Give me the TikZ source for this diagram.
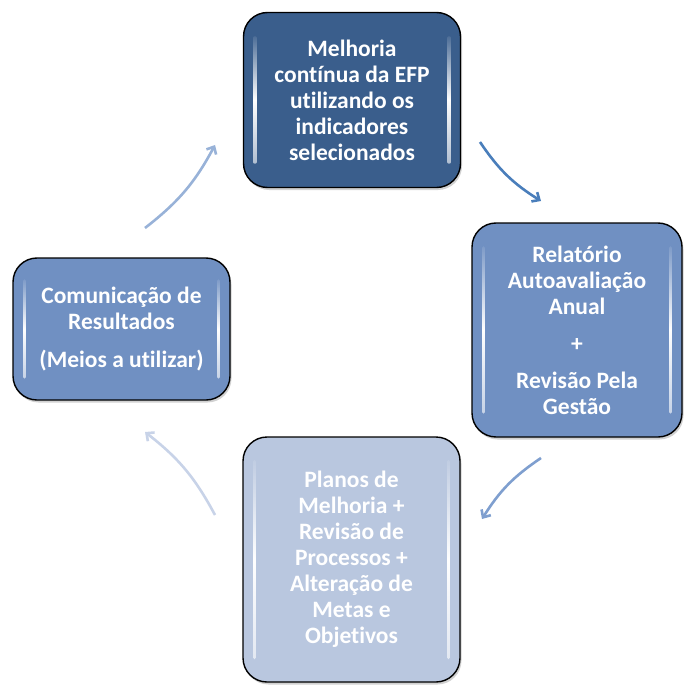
\documentclass[tikz,border=0pt]{standalone}
\usepackage{fontspec}
\setmainfont{Carlito}[Ligatures=NoCommon]
\usetikzlibrary{arrows.meta,shadows,fadings}
\definecolor{boxdark}{HTML}{3A5E8C}
\definecolor{boxmid}{HTML}{7090C2}
\definecolor{boxlight}{HTML}{B9C7DF}
\definecolor{arrA}{HTML}{4A7EBB}
\definecolor{arrB}{HTML}{7F9FCF}
\definecolor{arrC}{HTML}{C8D3E8}
\definecolor{arrD}{HTML}{98B2D8}
\tikzfading[name=vfade, top color=transparent!90, bottom color=transparent!40, middle color=transparent!0]
\tikzset{
  cyclebox/.style={draw=black, line width=1.4pt, rounded corners=24pt,
    align=center, text=white, inner sep=0pt,
    font=\fontsize{23.5}{26}\selectfont\bfseries,
    drop shadow={shadow xshift=1.5pt, shadow yshift=-2.5pt, opacity=0.18, fill=black}},
  gloss/.style={white, line width=3.5pt, line cap=round, path fading=vfade},
  cyclearrow/.style={line width=2.6pt, -{Straight Barb[length=6pt,width=11pt,line width=2.6pt]}},
}
\begin{document}
\begin{tikzpicture}[x=1pt,y=-1pt]
\useasboundingbox (0,0) rectangle (683,687);
% boxes
\node[cyclebox, fill=boxdark, minimum width=217pt, minimum height=175pt] (top) at (352,100)
  {Melhoria\\contínua da EFP\\utilizando os\\indicadores\\selecionados};
\node[cyclebox, fill=boxmid, minimum width=210pt, minimum height=214pt] (right) at (577,330)
  {Relatório\\Autoavaliação\\Anual\\[11pt]+\\[11pt]Revisão Pela\\Gestão};
\node[cyclebox, fill=boxlight, minimum width=217pt, minimum height=245pt] (bottom) at (351.5,559.5)
  {Planos de\\Melhoria +\\Revisão de\\Processos +\\Alteração de\\Metas e\\Objetivos};
\node[cyclebox, fill=boxmid, minimum width=217pt, minimum height=142pt] (left) at (121.5,329)
  {Comunicação de\\Resultados\\[12pt](Meios a utilizar)};
% gloss highlights
\foreach \b/\h in {top/62, right/82, bottom/98, left/48}{
  \draw[gloss] ([xshift=12pt,yshift=\h pt]\b.west) -- ([xshift=12pt,yshift=-\h pt]\b.west);
  \draw[gloss] ([xshift=-12pt,yshift=\h pt]\b.east) -- ([xshift=-12pt,yshift=-\h pt]\b.east);
}
% arrow end points
\coordinate (a1s) at (480,142); \coordinate (a1e) at (541,201);
\coordinate (a2s) at (541,458); \coordinate (a2e) at (482,519);
\coordinate (a3s) at (215,515); \coordinate (a3e) at (145,432);
\coordinate (a4s) at (145,228); \coordinate (a4e) at (215,145);
\draw[cyclearrow, arrA] (a1s) to[bend right=12] (a1e);
\draw[cyclearrow, arrB] (a2s) to[bend right=12] (a2e);
\draw[cyclearrow, arrC] (a3s) to[bend right=12] (a3e);
\draw[cyclearrow, arrD] (a4s) to[bend right=12] (a4e);
\end{tikzpicture}
\end{document}
